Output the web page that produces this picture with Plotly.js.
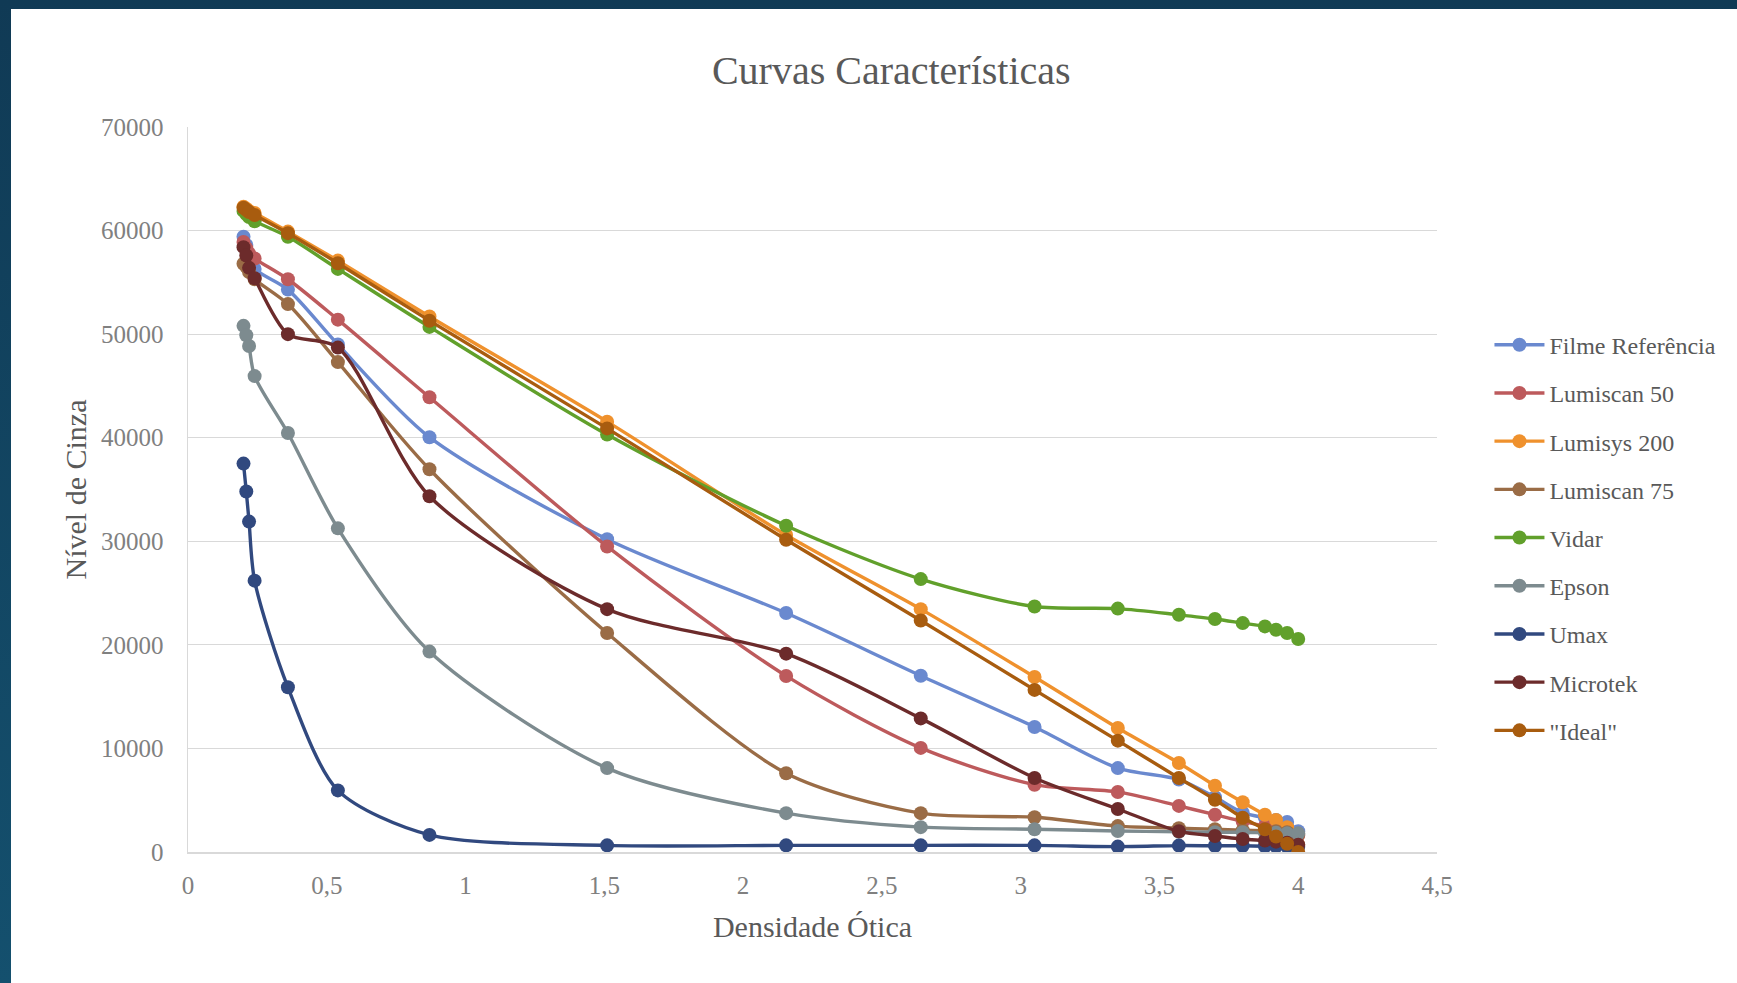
<!DOCTYPE html>
<html>
<head>
<meta charset="utf-8">
<script src="https://cdn.plot.ly/plotly-3.0.1.min.js"></script>
<style>
  html, body { margin: 0; padding: 0; width: 1737px; height: 983px; overflow: hidden;
    background: linear-gradient(180deg, #103a55 0%, #14506e 100%); }
  #chart { position: absolute; left: 11px; top: 9px; width: 1726px; height: 974px; background: #ffffff; }
</style>
</head>
<body>
<div id="chart"></div>
<script>
// Densidade Ótica (x) shared by all series
const densidade = [0.20, 0.21, 0.22, 0.24, 0.36, 0.54, 0.87, 1.51, 2.155, 2.64, 3.05, 3.35, 3.57, 3.70, 3.80, 3.88, 3.92, 3.96, 4.00];

const seriesNames = ['Filme Referência', 'Lumiscan 50', 'Lumisys 200', 'Lumiscan 75', 'Vidar', 'Epson', 'Umax', 'Microtek', '"Ideal"'];

const filmeReferencia = [59400, 58600, 57500, 56300, 54300, 49000, 40050, 30200, 23070, 17020, 12070, 8100, 7000, 5300, 3800, 3300, 3100, 2900, 2000];
const lumiscan50      = [58900, 58300, 57800, 57300, 55300, 51400, 43900, 29500, 17000, 10050, 6500, 5800, 4450, 3600, 2950, 2500, 2300, 2100, 1600];
const lumisys200      = [62300, 62100, 61900, 61700, 59900, 57100, 51700, 41550, 30600, 23450, 16900, 11970, 8600, 6400, 4800, 3600, 3100, 2400, 700];
const lumiscan75      = [56800, 56500, 56000, 55300, 52900, 47300, 36950, 21150, 7600, 3750, 3350, 2500, 2300, 2200, 2100, 2050, 2000, 1900, 1700];
const vidar           = [61900, 61600, 61300, 60900, 59400, 56300, 50700, 40300, 31500, 26350, 23700, 23500, 22900, 22500, 22100, 21780, 21460, 21140, 20560];
const epson           = [50800, 49900, 48850, 45950, 40450, 31250, 19350, 8100, 3750, 2400, 2200, 2030, 1950, 1900, 1900, 1850, 1850, 1800, 1800];
const umax            = [37500, 34800, 31900, 26200, 15900, 5950, 1650, 640, 640, 640, 640, 520, 620, 600, 600, 560, 550, 520, 500];
const microtek        = [58400, 57600, 56400, 55400, 50000, 48700, 34350, 23450, 19150, 12900, 7150, 4150, 2000, 1550, 1250, 1100, 1000, 900, 700];
const ideal           = [62200, 62000, 61800, 61500, 59750, 56850, 51300, 40900, 30150, 22350, 15650, 10750, 7150, 5050, 3300, 2200, 1500, 800, 0];

const seriesValues = [filmeReferencia, lumiscan50, lumisys200, lumiscan75, vidar, epson, umax, microtek, ideal];
const seriesColors = ['#6a89cf', '#bd5a5c', '#ef912d', '#9a6c46', '#61a02b', '#7d8b8f', '#31497f', '#6c2b2b', '#a85c0f'];

const xTickVals = [0, 0.5, 1, 1.5, 2, 2.5, 3, 3.5, 4, 4.5];
const xTickText = ['0', '0,5', '1', '1,5', '2', '2,5', '3', '3,5', '4', '4,5'];
const yTickVals = [0, 10000, 20000, 30000, 40000, 50000, 60000, 70000];
const yTickText = ['0', '10000', '20000', '30000', '40000', '50000', '60000', '70000'];

const FONT = '"Liberation Serif", "DejaVu Serif", serif';

const traces = seriesNames.map((name, i) => ({
  type: 'scatter',
  mode: 'lines+markers',
  name: name,
  x: densidade,
  y: seriesValues[i],
  legendgroup: 'g' + i,
  line: { color: seriesColors[i], width: 3.4, shape: 'spline', smoothing: 0.8 },
  marker: { color: seriesColors[i], size: 14, symbol: 'circle' }
}));

const layout = {
  width: 1726,
  height: 974,
  paper_bgcolor: '#ffffff',
  plot_bgcolor: '#ffffff',
  separators: ',.',
  margin: { l: 177, r: 300, t: 118, b: 131, pad: 0 },
  font: { family: FONT, color: '#595959' },
  title: {
    text: 'Curvas Características',
    font: { family: FONT, size: 40, color: '#595959' },
    xref: 'container', x: 0.51, xanchor: 'center',
    yref: 'container', y: 0.937, yanchor: 'middle'
  },
  xaxis: {
    range: [0, 4.5],
    tickmode: 'array', tickvals: xTickVals, ticktext: xTickText,
    ticks: 'outside', ticklen: 10, tickcolor: 'rgba(0,0,0,0)',
    tickfont: { family: FONT, size: 25, color: '#808080' },
    showgrid: false, zeroline: false,
    showline: true, linecolor: '#d9d9d9', linewidth: 1.5,
    title: { text: 'Densidade Ótica', font: { family: FONT, size: 30, color: '#595959' }, standoff: 18 }
  },
  yaxis: {
    range: [0, 70000],
    tickmode: 'array', tickvals: yTickVals, ticktext: yTickText,
    ticks: 'outside', ticklen: 18, tickcolor: 'rgba(0,0,0,0)',
    tickfont: { family: FONT, size: 25, color: '#808080' },
    showgrid: true, gridcolor: '#d9d9d9', gridwidth: 1.2,
    zeroline: false,
    showline: true, linecolor: '#d9d9d9', linewidth: 1.5,
    title: { text: 'Nível de Cinza', font: { family: FONT, size: 30, color: '#595959' }, standoff: 5 }
  },
  showlegend: true,
  legend: {
    x: 1.042, xanchor: 'left',
    y: 0.4336, yanchor: 'middle',
    font: { family: FONT, size: 24, color: '#595959' },
    tracegroupgap: 14,
    itemwidth: 50,
    bgcolor: 'rgba(0,0,0,0)'
  }
};

Plotly.newPlot('chart', traces, layout, { staticPlot: true, displayModeBar: false });
</script>
</body>
</html>
